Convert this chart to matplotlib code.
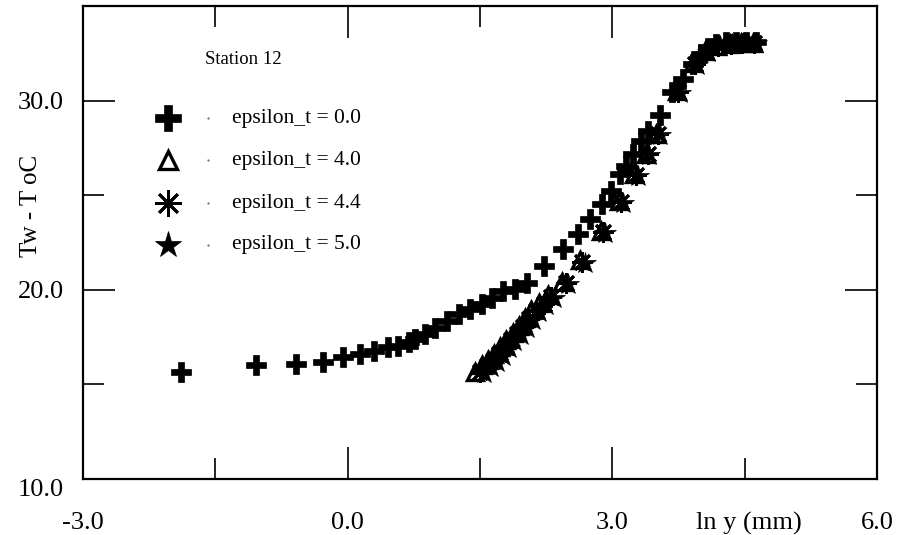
import matplotlib
matplotlib.use('Agg')
import matplotlib.pyplot as plt
from matplotlib.ticker import FixedLocator

plt.rcParams['font.family'] = ['Liberation Serif', 'DejaVu Serif']

#--------------------------------------------------------------------
# data
x_eps00 = [-1.89, -1.04, -0.59, -0.28, -0.05, 0.14, 0.30, 0.46, 0.57, 0.69, 0.76, 0.88,
           0.99, 1.13, 1.26, 1.39, 1.52, 1.64, 1.76, 1.90, 2.03, 2.22, 2.44, 2.61, 2.75,
           2.88, 2.98, 3.09, 3.15, 3.24, 3.32, 3.40, 3.54, 3.68, 3.80, 3.92, 4.00, 4.09,
           4.18, 4.29, 4.40, 4.52, 4.63]
y_eps00 = [15.68, 16.0, 16.1, 16.2, 16.47, 16.58, 16.74, 16.95, 17.05, 17.26, 17.42, 17.68,
           18.0, 18.37, 18.74, 19.0, 19.26, 19.58, 19.95, 20.05, 20.37, 21.26, 22.16, 22.95, 23.74,
           24.53, 25.21, 26.1, 26.53, 27.16, 27.84, 28.37, 29.26, 30.47, 31.16, 31.95, 32.47, 32.79,
           33.0, 33.1, 33.1, 33.1, 33.1]

x_eps40 = [1.44, 1.52, 1.59, 1.66, 1.73, 1.80, 1.87, 1.94, 2.01, 2.08, 2.17, 2.27, 2.43,
           2.63, 2.87, 3.08, 3.25, 3.38, 3.50, 3.73, 3.92, 4.05, 4.19, 4.33, 4.46, 4.60]
y_eps40 = [15.68, 16.0, 16.3, 16.63, 17.0, 17.37, 17.74, 18.1, 18.53, 18.95, 19.32, 19.7, 20.42,
           21.55, 23.1, 24.7, 26.1, 27.2, 28.26, 30.5, 31.98, 32.6, 32.9, 33.0, 33.05, 33.05]

x_eps44 = [1.50, 1.58, 1.65, 1.72, 1.79, 1.85, 1.92, 1.99, 2.06, 2.13, 2.22, 2.31, 2.47,
           2.66, 2.90, 3.10, 3.27, 3.40, 3.52, 3.75, 3.94, 4.06, 4.20, 4.34, 4.47, 4.61]
y_eps44 = [15.63, 15.95, 16.26, 16.58, 16.95, 17.32, 17.68, 18.05, 18.47, 18.89, 19.26, 19.63, 20.37,
           21.47, 23.05, 24.63, 26.05, 27.16, 28.21, 30.47, 31.95, 32.58, 32.89, 33.0, 33.05, 33.05]

x_eps50 = [1.55, 1.62, 1.69, 1.76, 1.83, 1.89, 1.96, 2.03, 2.10, 2.17, 2.25, 2.34, 2.50,
           2.69, 2.92, 3.12, 3.29, 3.42, 3.54, 3.77, 3.96, 4.08, 4.22, 4.36, 4.49, 4.63]
y_eps50 = [15.6, 15.9, 16.2, 16.52, 16.9, 17.27, 17.63, 18.0, 18.42, 18.84, 19.2, 19.58, 20.32,
           21.42, 23.0, 24.58, 26.0, 27.1, 28.16, 30.42, 31.9, 32.55, 32.86, 32.98, 33.03, 33.03]

labels = ['epsilon_t = 0.0', 'epsilon_t = 4.0', 'epsilon_t = 4.4', 'epsilon_t = 5.0']
x_ticks = [-3.0, 0.0, 3.0, 6.0]
y_ticks = [10.0, 20.0, 30.0]

#--------------------------------------------------------------------
# styles for each series (size in plot, size in legend)
styles = [
    dict(marker='P', mfc='black', mec='black', mew=0.5),
    dict(marker='^', mfc='none', mec='black', mew=2.4),
    dict(marker=(8, 2, 0), mfc='black', mec='black', mew=2.0),
    dict(marker='*', mfc='black', mec='black', mew=0.5),
]
data_ms = [14, 11, 15, 16]
leg_ms = [19, 13, 19, 20]

fig = plt.figure(figsize=(8.97, 5.35), dpi=100)
ax = fig.add_axes([0.0925, 0.1047, 0.8852, 0.8841])

series = [(x_eps00, y_eps00), (x_eps40, y_eps40), (x_eps44, y_eps44), (x_eps50, y_eps50)]
for (xs, ys), st, ms in zip(series, styles, data_ms):
    ax.plot(xs, ys, ls='none', ms=ms, **st)

ax.set_xlim(-3, 6)
ax.set_ylim(10, 35)

ax.set_xticks(x_ticks)
ax.set_xticklabels(['%.1f' % v for v in x_ticks])
ax.set_yticks(y_ticks)
ax.set_yticklabels(['%.1f' % v for v in y_ticks])
ax.xaxis.set_minor_locator(FixedLocator([-1.5, 1.5, 4.5]))
ax.yaxis.set_minor_locator(FixedLocator([15, 25]))

ax.tick_params(which='both', direction='in', top=True, right=True, width=1.2, colors='black')
ax.tick_params(which='major', length=23)
ax.tick_params(which='minor', length=15)
ax.tick_params(axis='x', which='major', labelsize=19, pad=24)
ax.tick_params(axis='y', which='major', labelsize=19, pad=14)
for sp in ax.spines.values():
    sp.set_linewidth(1.6)

# the 10.0 label sits a bit lower in the original
for lab in ax.get_yticklabels():
    if lab.get_text() == '10.0':
        lab.set_verticalalignment('top')

# y label sits above the 20.0 tick label, not centred on the axis
fig.text(31 / 897, 0.615, 'Tw - T oC', rotation=90, fontsize=18, ha='center', va='center')
ax.text(4.55, -0.093, 'ln y (mm)', transform=ax.get_xaxis_transform(),
        ha='center', va='center', fontsize=19)

#--------------------------------------------------------------------
# legend drawn by hand
ax.text(0.154, 0.886, 'Station 12', transform=ax.transAxes, fontsize=13.5,
        ha='left', va='center')
leg_y = [0.763, 0.674, 0.583, 0.495]
for yy, st, ms, lab in zip(leg_y, styles, leg_ms, labels):
    ax.plot([0.107], [yy], transform=ax.transAxes, ls='none', ms=ms, clip_on=False, **st)
    ax.plot([0.157], [yy], transform=ax.transAxes, marker='.', ms=1.2, color='dimgray', ls='none')
    ax.text(0.188, yy, lab, transform=ax.transAxes, fontsize=15.5, ha='left', va='center')

fig.savefig('out.png', dpi=100)
